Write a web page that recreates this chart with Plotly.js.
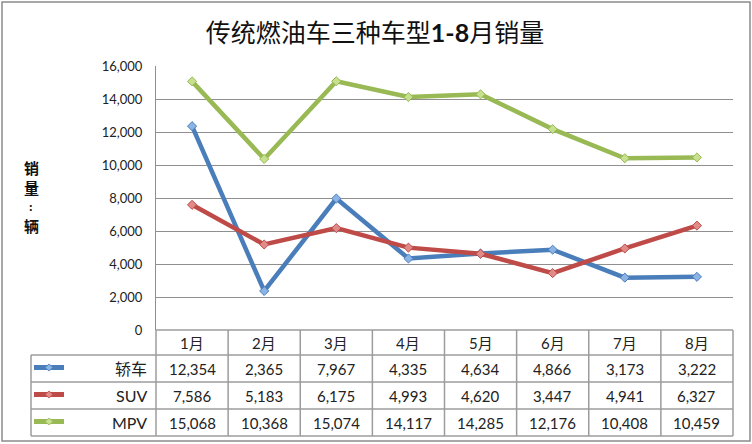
<!DOCTYPE html>
<html>
<head>
<meta charset="utf-8">
<script src="https://cdn.plot.ly/plotly-3.0.1.min.js"></script>
<style>
  body { margin: 0; background: #fff; }
  #chart { width: 752px; height: 444px; }
</style>
</head>
<body>
<div id="chart"></div>
<script>
const months = ['1月', '2月', '3月', '4月', '5月', '6月', '7月', '8月'];
const seriesNames = ['轿车', 'SUV', 'MPV'];
const sedan = [12354, 2365, 7967, 4335, 4634, 4866, 3173, 3222];
const suv = [7586, 5183, 6175, 4993, 4620, 3447, 4941, 6327];
const mpv = [15068, 10368, 15074, 14117, 14285, 12176, 10408, 10459];
const yTicks = [0, 2000, 4000, 6000, 8000, 10000, 12000, 14000, 16000];
const yTitle = ['销', '量', ':', '辆'];

const allValues = [sedan, suv, mpv];
const lineColors = ['#4a7ebb', '#be4b48', '#98b954'];
const markerColors = ['#8cb3e6', '#e08b88', '#c6e08e'];

const W = 752, H = 444;
const plotL = 156, plotR = 733, plotT = 66, plotB = 330;
const font = "Lato, 'Noto Sans CJK SC', sans-serif";

// pixel -> paper helpers
const px = v => (v - plotL) / (plotR - plotL);
const py = v => (plotB - v) / (plotB - plotT);
const colW = (plotR - plotL) / months.length;

let traces = allValues.map((vals, i) => ({
  x: months,
  y: vals,
  name: seriesNames[i],
  type: 'scatter',
  mode: 'lines+markers',
  line: { color: lineColors[i], width: 4.5 },
  marker: { symbol: 'diamond', size: 7, color: markerColors[i],
            line: { color: lineColors[i], width: 1 } },
  hoverinfo: 'x+y+name'
}));

const rowLines = [330, 355, 382, 409, 436];
const rowCenters = [368.5, 395.5, 422.5];
const tableLeft = 31;
const gridLine = { color: '#9c9c9c', width: 1.5 };

let shapes = [];
let annotations = [];

function seg(x0, y0, x1, y1, line) {
  shapes.push({ type: 'line', xref: 'paper', yref: 'paper',
    x0: px(x0), y0: py(y0), x1: px(x1), y1: py(y1), line: line });
}
function label(x, y, text, size, opts) {
  annotations.push(Object.assign({ x: x, y: py(y), yref: 'paper',
    xanchor: 'center', yanchor: 'middle', text: text, showarrow: false,
    font: { family: font, size: size, color: '#222' } }, opts));
}

// outer border
shapes.push({ type: 'rect', xref: 'paper', yref: 'paper',
  x0: px(2), x1: px(750), y0: py(441), y1: py(2),
  line: { color: '#8c8c8c', width: 1.5 } });

// table grid
rowLines.forEach((r, i) => seg(i === 0 ? plotL : tableLeft, r, plotR, r, gridLine));
for (let k = 0; k <= months.length; k++) {
  const xv = plotL + k * colW;
  seg(xv, 330, xv, 436, gridLine);
}
seg(tableLeft, 355, tableLeft, 436, gridLine);

// month header
months.forEach(m => label(m, 342.5, m, 15, { xref: 'x' }));

// value rows with legend keys
allValues.forEach((vals, i) => {
  const yc = rowCenters[i];
  seg(34, yc - 1, 64, yc - 1, { color: lineColors[i], width: 5 });
  shapes.push({ type: 'path', xref: 'paper', yref: 'paper',
    path: `M${px(45)},${py(yc - 1)} L${px(49)},${py(yc - 4.5)} L${px(53)},${py(yc - 1)} L${px(49)},${py(yc + 2.5)} Z`,
    fillcolor: markerColors[i], line: { color: lineColors[i], width: 0.8 } });
  label(px(149), yc, seriesNames[i], 16, { xref: 'paper', xanchor: 'right' });
  vals.forEach((v, k) => label(months[k], yc, v.toLocaleString('en-US'), 15, { xref: 'x' }));
});

// y axis title, one character per line
const yTitleRows = [167, 187, 206, 225];
yTitle.forEach((c, i) => {
  label(px(31), yTitleRows[i], c, i === 2 ? 11 : 15, {
    xref: 'paper',
    font: { family: "'Noto Sans CJK SC', sans-serif", size: i === 2 ? 11 : 15,
            color: '#111', weight: 'bold' } });
});

let layout = {
  width: W,
  height: H,
  margin: { l: plotL, r: W - plotR, t: plotT, b: H - plotB, pad: 0 },
  paper_bgcolor: '#fff',
  plot_bgcolor: '#fff',
  showlegend: false,
  title: {
    text: '传统燃油车三种车型<b>1-8</b>月销量',
    x: 375 / W, xref: 'container', xanchor: 'center',
    y: 1 - 33 / H, yref: 'container', yanchor: 'middle',
    font: { family: font, size: 25, color: '#111' }
  },
  xaxis: {
    type: 'category',
    range: [-0.5, months.length - 0.5],
    showticklabels: false,
    showgrid: false,
    zeroline: false,
    ticks: ''
  },
  yaxis: {
    range: [0, 16000],
    tickvals: yTicks,
    tickformat: ',d',
    showgrid: true,
    gridcolor: '#8f8f8f',
    gridwidth: 1,
    zeroline: false,
    showline: true,
    linecolor: '#8f8f8f',
    linewidth: 1,
    ticks: '',
    ticklabelstandoff: 10,
    tickfont: { family: font, size: 13, color: '#222' }
  },
  shapes: shapes,
  annotations: annotations
};

Plotly.newPlot('chart', traces, layout, { displayModeBar: false });
</script>
</body>
</html>
